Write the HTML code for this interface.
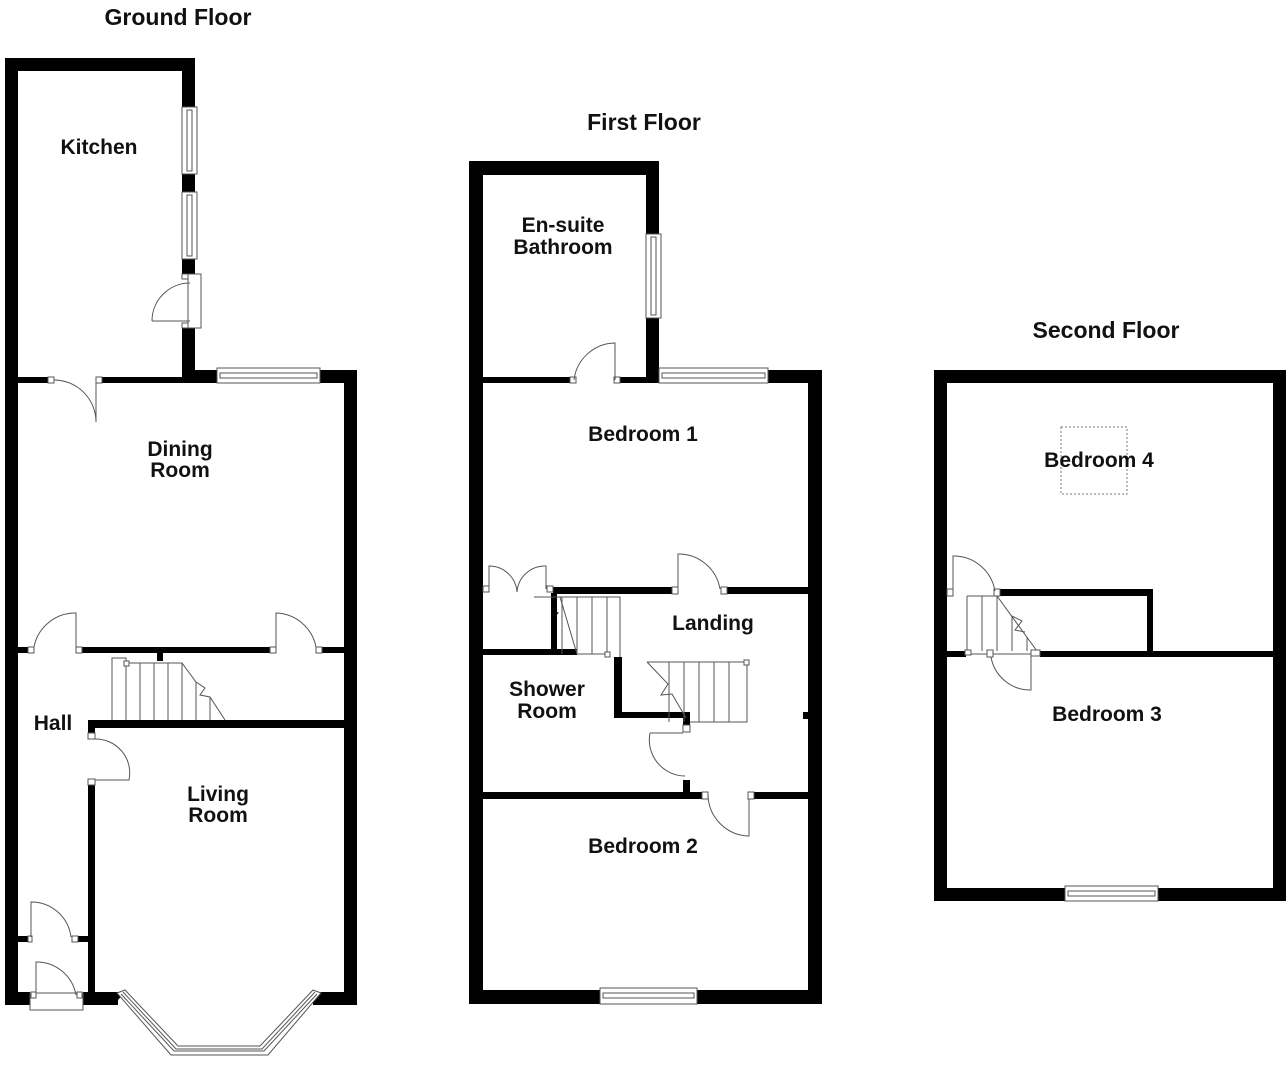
<!DOCTYPE html>
<html><head><meta charset="utf-8"><style>
html,body{margin:0;padding:0;background:#fff;}
svg{display:block}
text{font-family:"Liberation Sans",Arial,sans-serif;font-weight:bold;fill:#111;text-anchor:middle}
.t{fill:none;stroke:#555;stroke-width:1}
.f{fill:#fff;stroke:#555;stroke-width:1}
</style></head><body>
<svg width="1288" height="1065" viewBox="0 0 1288 1065" xmlns="http://www.w3.org/2000/svg">
<!-- ===== GROUND FLOOR ===== -->
<g fill="#000">
<rect x="5" y="58" width="190" height="13"/>
<rect x="5" y="58" width="13" height="947"/>
<rect x="182" y="58" width="13" height="49"/>
<rect x="182" y="174" width="13" height="18"/>
<rect x="182" y="259" width="13" height="15"/>
<rect x="182" y="328" width="13" height="55"/>
<rect x="182" y="370" width="35" height="13"/>
<rect x="320" y="370" width="37" height="13"/>
<rect x="344" y="370" width="13" height="635"/>
<rect x="18" y="377" width="30" height="6"/>
<rect x="100" y="377" width="82" height="6"/>
<rect x="18" y="647" width="10" height="6"/>
<rect x="82" y="647" width="188" height="6"/>
<rect x="322" y="647" width="22" height="6"/>
<rect x="157" y="653" width="6" height="8"/>
<rect x="88" y="720" width="256" height="8"/>
<rect x="88" y="720" width="7" height="13"/>
<rect x="88" y="785" width="7" height="220"/>
<rect x="18" y="936" width="10" height="6"/>
<rect x="78" y="936" width="10" height="6"/>
<rect x="5" y="992" width="25" height="13"/>
<rect x="83" y="992" width="35" height="13"/>
<rect x="313" y="992" width="44" height="13"/>
</g>
<rect class="f" x="182" y="107" width="15" height="67"/><rect class="t" x="187" y="110" width="5" height="61"/>
<rect class="f" x="182" y="192" width="15" height="67"/><rect class="t" x="187" y="195" width="5" height="61"/>
<rect class="f" x="188" y="274" width="13" height="54"/>
<rect class="f" x="182" y="274" width="6" height="5"/><rect class="f" x="182" y="323" width="6" height="5"/>
<path class="t" d="M152 321 A38 38 0 0 1 190 283 M152 321 L190 321"/>
<rect class="f" x="217" y="368" width="103" height="15"/><rect class="t" x="220" y="373" width="97" height="5"/>
<rect class="f" x="48" y="377" width="6" height="6"/><rect class="f" x="96" y="377" width="6" height="6"/>
<path class="t" d="M54 380 A42 42 0 0 1 96 422 L96 383"/>
<rect class="f" x="28" y="647" width="6" height="6"/><rect class="f" x="76" y="647" width="6" height="6"/>
<path class="t" d="M34 647 A42 42 0 0 1 76 613 L76 647"/>
<rect class="f" x="270" y="647" width="6" height="6"/><rect class="f" x="316" y="647" width="6" height="6"/>
<path class="t" d="M276 647 L276 613 A42 42 0 0 1 316 647"/>
<path class="t" d="M112 720 L112 658 L126 658 L126 720 M140 663 L140 720 M154 663 L154 720 M168 663 L168 720 M182 663 L182 720 M126 663 L182 663 L196 682 L205 688 L200 695 L210 697 L225 720 M196 682 L196 720 M210 697 L210 720"/>
<rect class="f" x="124" y="661" width="5" height="5"/>
<rect class="f" x="88" y="733" width="7" height="6"/><rect class="f" x="88" y="779" width="7" height="6"/>
<path class="t" d="M95 739 A34 34 0 0 1 129 780 L95 780"/>
<rect class="f" x="28" y="936" width="4" height="6"/><rect class="f" x="72" y="936" width="6" height="6"/>
<path class="t" d="M31 937 L31 902 A40 40 0 0 1 71 937"/>
<rect class="f" x="30" y="993" width="53" height="17"/>
<rect class="f" x="31" y="992" width="5" height="6"/><rect class="f" x="77" y="992" width="5" height="6"/>
<path class="t" d="M36 995 L36 962 A40 40 0 0 1 76 995"/>
<path fill="#000" d="M115 992 L125 992 L118 1000 Z M310 992 L320 992 L318 1000 Z"/>
<path class="f" d="M117 993 L125 990 L178 1046 L260 1046 L313 990 L321 993 L268 1055 L171 1055 Z"/>
<path class="t" d="M121 994 L174 1051 L264 1051 L317 994"/>
<path class="t" d="M123 992 L176 1049 L262 1049 L315 992"/>
<!-- ===== FIRST FLOOR ===== -->
<g fill="#000">
<rect x="469" y="161" width="190" height="14"/>
<rect x="469" y="161" width="14" height="843"/>
<rect x="646" y="161" width="13" height="73"/>
<rect x="646" y="318" width="13" height="65"/>
<rect x="768" y="370" width="54" height="13"/>
<rect x="808" y="370" width="14" height="634"/>
<rect x="483" y="377" width="87" height="6"/>
<rect x="618" y="377" width="28" height="6"/>
<rect x="553" y="587" width="119" height="7"/>
<rect x="727" y="587" width="81" height="7"/>
<rect x="551" y="593" width="6" height="57"/>
<rect x="483" y="649" width="94" height="6"/>
<rect x="614" y="657" width="8" height="61"/>
<rect x="614" y="712" width="76" height="6"/>
<rect x="683" y="712" width="7" height="13"/>
<rect x="683" y="780" width="7" height="13"/>
<rect x="483" y="792" width="219" height="7"/>
<rect x="752" y="792" width="56" height="7"/>
<rect x="803" y="712" width="5" height="7"/>
<rect x="469" y="990" width="131" height="14"/>
<rect x="697" y="990" width="125" height="14"/>
</g>
<rect class="f" x="646" y="234" width="15" height="84"/><rect class="t" x="651" y="237" width="5" height="78"/>
<rect class="f" x="659" y="368" width="109" height="15"/><rect class="t" x="662" y="373" width="103" height="5"/>
<rect class="f" x="600" y="988" width="97" height="16"/><rect class="t" x="603" y="993" width="91" height="5"/>
<rect class="f" x="570" y="377" width="6" height="6"/><rect class="f" x="614" y="377" width="6" height="6"/>
<path class="t" d="M574 380 A42 42 0 0 1 615 343 L615 380"/>
<rect class="f" x="483" y="586" width="6" height="6"/><rect class="f" x="547" y="586" width="6" height="6"/>
<path class="t" d="M489 589 L489 566 A28 28 0 0 1 517 592 A28 28 0 0 1 546 566 L546 589"/>
<rect class="f" x="672" y="587" width="6" height="7"/><rect class="f" x="721" y="587" width="6" height="7"/>
<path class="t" d="M678 589 L678 554 A42 42 0 0 1 720 589"/>
<path class="t" d="M534 597 L560 597 L577 654 M560 597 L620 597 L620 657 M562 597 L562 654 M577 597 L577 654 M592 597 L592 654 M607 597 L607 654 M577 654 L607 654"/>
<path fill="#000" d="M551 614 L559 612 L553 620 L557 620 L557 625 L551 625 Z"/>
<rect class="f" x="605" y="652" width="5" height="5"/>
<path class="t" d="M647 662 L747 662 L747 722 L690 722 M647 662 L668 684 L661 695 L672 694 L686 718 M669 662 L669 722 M684 662 L684 722 M699 662 L699 722 M714 662 L714 722 M729 662 L729 722"/>
<rect class="f" x="744" y="660" width="5" height="5"/>
<rect class="f" x="683" y="725" width="7" height="7"/>
<path class="t" d="M650 733 A36 36 0 0 0 685 776"/>
<path class="t" d="M650 733 L683 733"/>
<rect class="f" x="702" y="792" width="6" height="7"/><rect class="f" x="748" y="792" width="6" height="7"/>
<path class="t" d="M708 795 A42 42 0 0 0 749 836 L749 799"/>
<!-- ===== SECOND FLOOR ===== -->
<g fill="#000">
<rect x="934" y="370" width="352" height="13"/>
<rect x="934" y="370" width="13" height="531"/>
<rect x="1273" y="370" width="13" height="531"/>
<rect x="934" y="888" width="131" height="13"/>
<rect x="1158" y="888" width="128" height="13"/>
<rect x="946" y="651" width="20" height="6"/>
<rect x="1040" y="651" width="246" height="6"/>
<rect x="997" y="589" width="156" height="7"/>
<rect x="1147" y="589" width="6" height="65"/>
</g>
<rect class="f" x="1065" y="886" width="93" height="15"/><rect class="t" x="1068" y="891" width="87" height="5"/>
<rect x="1061" y="427" width="66" height="67" fill="none" stroke="#777" stroke-width="1" stroke-dasharray="2,2"/>
<rect class="f" x="947" y="589" width="6" height="7"/><rect class="f" x="994" y="589" width="6" height="7"/>
<path class="t" d="M953 592 L953 556 A42 42 0 0 1 995 591"/>
<path class="t" d="M967 596 L997 596 L1037 651 M967 596 L967 651 M982 596 L982 651 M997 596 L997 651 M1012 616 L1012 651 M1027 638 L1027 651 M1012 616 L1022 621 L1015 630 L1025 632 M967 654 L1031 654"/>
<rect class="f" x="965" y="650" width="6" height="5"/><rect class="f" x="1031" y="650" width="9" height="6"/><rect class="f" x="987" y="650" width="6" height="7"/>
<path class="t" d="M991 657 A40 40 0 0 0 1031 690 L1031 656"/>
<!-- ===== TEXT ===== -->
<g font-size="23">
<text x="178" y="25">Ground Floor</text>
<text x="644" y="130">First Floor</text>
<text x="1106" y="338">Second Floor</text>
</g>
<g font-size="21">
<text x="99" y="154">Kitchen</text>
<text x="180" y="456">Dining</text><text x="180" y="477">Room</text>
<text x="53" y="730">Hall</text>
<text x="218" y="801">Living</text><text x="218" y="822">Room</text>
<text x="563" y="232">En-suite</text><text x="563" y="254">Bathroom</text>
<text x="643" y="441">Bedroom 1</text>
<text x="713" y="630">Landing</text>
<text x="547" y="696">Shower</text><text x="547" y="718">Room</text>
<text x="643" y="853">Bedroom 2</text>
<text x="1099" y="467">Bedroom 4</text>
<text x="1107" y="721">Bedroom 3</text>
</g>
</svg>
</body></html>
